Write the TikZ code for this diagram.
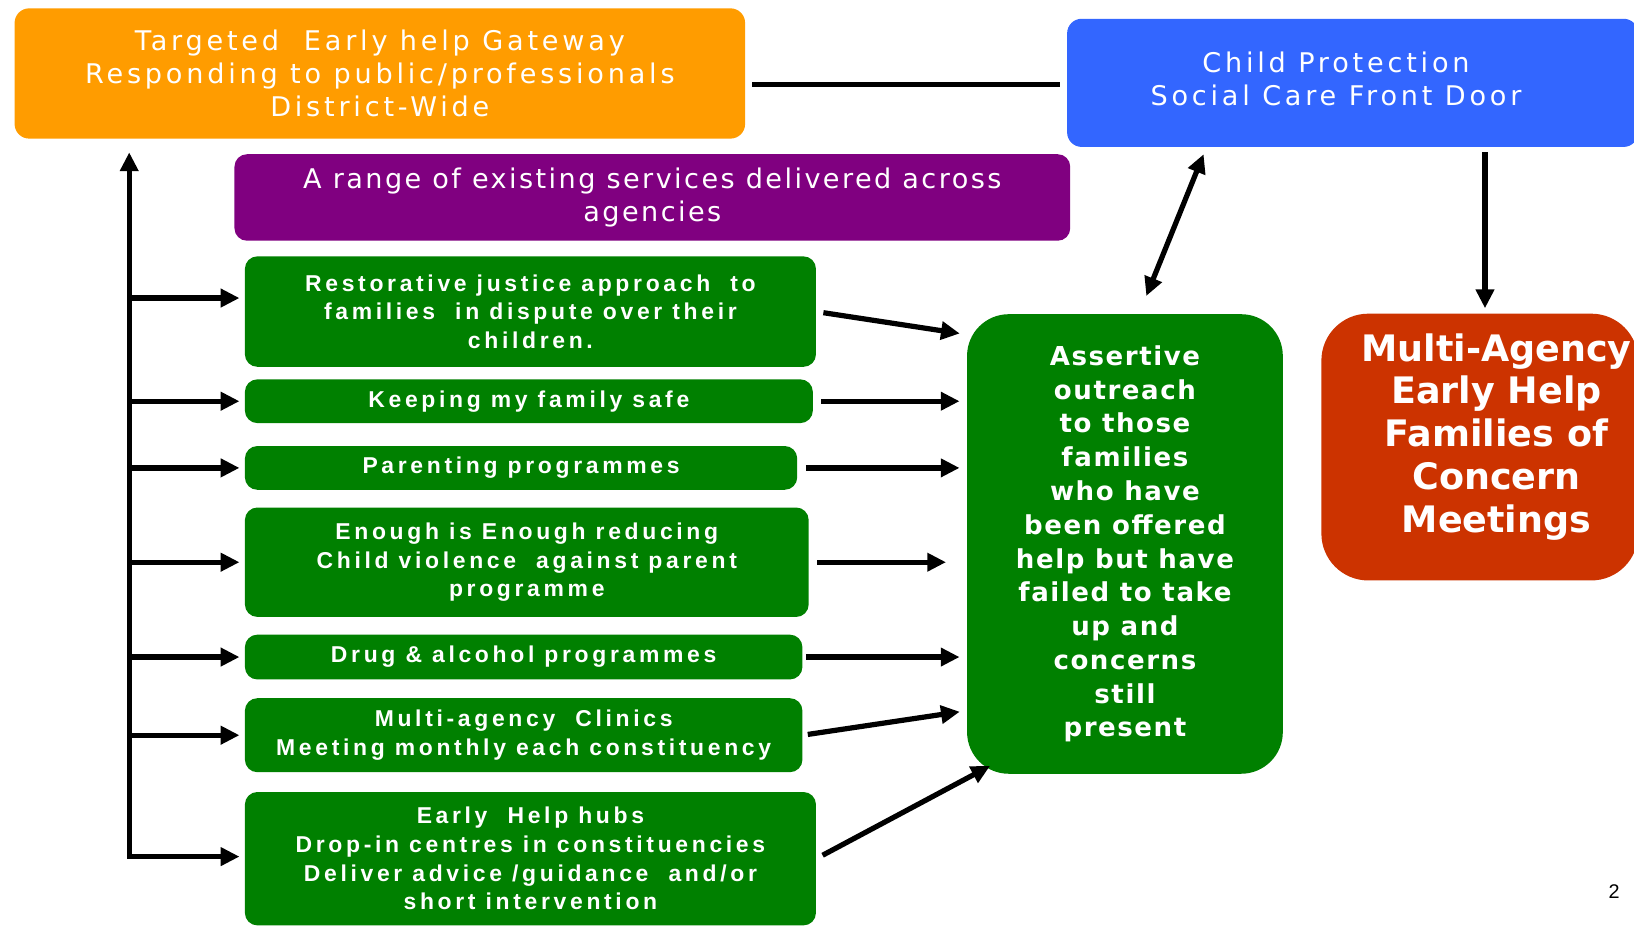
\documentclass[tikz,border=0pt]{standalone}
\usepackage{fontspec}
\usetikzlibrary{arrows.meta}
\newfontfamily\ttlfont[LetterSpace=14]{DejaVu Sans}
\newfontfamily\prpfont[LetterSpace=9]{DejaVu Sans}
\newfontfamily\grnfont[LetterSpace=16]{Liberation Sans}
\newfontfamily\asfont[LetterSpace=6]{DejaVu Sans}
\newfontfamily\redfont{DejaVu Sans}
\newfontfamily\numfont{Liberation Sans}
\definecolor{cOrange}{HTML}{FF9C00}
\definecolor{cBlue}{HTML}{3366FF}
\definecolor{cPurple}{HTML}{800080}
\definecolor{cGreen}{HTML}{008000}
\definecolor{cRed}{HTML}{CC3300}
\tikzset{
  box/.style={rounded corners=14pt, inner sep=0pt, align=center, text=white},
  ttl/.style={font={\ttlfont\fontsize{26pt}{31.5pt}\selectfont}},
  prp/.style={font={\prpfont\fontsize{26pt}{32pt}\selectfont}},
  grn/.style={box, fill=cGreen, rounded corners=12pt, font={\grnfont\bfseries\fontsize{22pt}{27.5pt}\selectfont}},
  conn/.style={line width=5pt, black},
  arr/.style={conn, -{Triangle[length=18pt,width=17pt]}},
  arrboth/.style={conn, {Triangle[length=18pt,width=17pt]}-{Triangle[length=18pt,width=17pt]}}
}
\begin{document}
\begin{tikzpicture}[x=1pt,y=-1pt]
\useasboundingbox[fill=white] (0,0) rectangle (1568,889);

% top boxes
\node[box, ttl, fill=cOrange, minimum width=701pt, minimum height=125pt] (orange) at (364.5,70.5)
  {Targeted\ \ Early help Gateway\\Responding to public/professionals\\District-Wide};
\node[box, fill=cBlue, minimum width=548pt, minimum height=123pt] (blue) at (1298,79.5) {};
\node[ttl, text=white, align=center, inner sep=0pt] (bluet) at (1282,76)
  {Child Protection\\Social Care Front Door};
\node[box, prp, fill=cPurple, rounded corners=12pt, minimum width=802pt, minimum height=83pt] (purple) at (626,189.5)
  {A range of existing services delivered across\\agencies};

% green service boxes
\node[grn, minimum width=548pt, minimum height=106pt] (g1) at (509,299)
  {Restorative justice approach\ \ to\\families\ \ in dispute over their\\children.};
\node[grn, minimum width=545pt, minimum height=42pt] (g2) at (507.5,385)
  {Keeping my family safe};
\node[grn, minimum width=530pt, minimum height=42pt] (g3) at (500,449)
  {Parenting programmes};
\node[grn, minimum width=541pt, minimum height=105pt] (g4) at (505.5,539.5)
  {Enough is Enough reducing\\Child violence\ \ against parent\\programme};
\node[grn, minimum width=535pt, minimum height=43pt] (g5) at (502.5,630.5)
  {Drug \& alcohol programmes};
\node[grn, minimum width=535pt, minimum height=71pt] (g6) at (502.5,705.5)
  {Multi-agency\ \ Clinics\\Meeting monthly each constituency};
\node[grn, minimum width=548pt, minimum height=128pt] (g7) at (509,824)
  {Early\ \ Help hubs\\Drop-in centres in constituencies\\Deliver advice /guidance\ \ and/or\\short intervention};

% assertive outreach
\node[box, fill=cGreen, rounded corners=40pt, minimum width=303pt, minimum height=441pt,
      font={\asfont\bfseries\fontsize{25pt}{32.4pt}\selectfont}] (as) at (1079.5,522)
  {Assertive\\outreach\\to those\\families\\who have\\been offered\\help but have\\failed to take\\up and\\concerns\\still\\present};

% multi-agency meetings
\node[box, fill=cRed, rounded corners=45pt, minimum width=304pt, minimum height=256pt] (red) at (1420,429) {};
\node[text=white, align=center, inner sep=0pt, font={\redfont\bfseries\fontsize{35pt}{41pt}\selectfont}] (redt) at (1436,419)
  {Multi-Agency\\Early Help\\Families of\\Concern\\Meetings};

\node[font={\numfont\fontsize{19pt}{19pt}\selectfont}, inner sep=0pt] (pg) at (1549,856) {2};

% connectors
\coordinate (hl) at (722,81);
\draw[conn, shorten >=7pt] (hl) -- (hl -| blue.west);

\coordinate (tb) at (124,822);
\draw[arrboth, shorten <=13pt, shorten >=5pt] (tb |- orange.south) -- (tb) -- (tb -| g7.west);
\coordinate (b1) at (124,286);
\draw[arr, shorten >=5pt] (b1) -- (b1 -| g1.west);
\draw[arr, shorten >=5pt] (tb |- g2.west) -- (g2.west);
\draw[arr, shorten >=5pt] (tb |- g3.west) -- (g3.west);
\draw[arr, shorten >=5pt] (tb |- g4.west) -- (g4.west);
\draw[arr, shorten >=5pt] (tb |- g5.west) -- (g5.west);
\draw[arr, shorten >=5pt] (tb |- g6.west) -- (g6.west);

\coordinate (e1) at (921,320);
\draw[arr, shorten <=7pt] (g1.east) -- (e1);
\draw[arr, shorten <=8pt, shorten >=7pt] (g2.east) -- (g2.east -| as.west);
\draw[arr, shorten <=8pt, shorten >=7pt] (g3.east) -- (g3.east -| as.west);
\draw[arr, shorten <=8pt, shorten >=20pt] (g4.east) -- (g4.east -| as.west);
\draw[arr, shorten <=3pt, shorten >=7pt] (g5.east) -- (g5.east -| as.west);
\coordinate (e6) at (921,683);
\draw[arr, shorten <=5pt] (g6.east) -- (e6);
\coordinate (e7) at (950,735);
\draw[arr, shorten <=7pt] (g7.east) -- (e7);

\coordinate (d1) at (1100,284);
\coordinate (d2) at (1155,148);
\draw[arrboth] (d1) -- (d2);

\coordinate (dn) at (1425,146);
\draw[arr, shorten >=5pt] (dn) -- (dn |- red.north);
\end{tikzpicture}
\end{document}
